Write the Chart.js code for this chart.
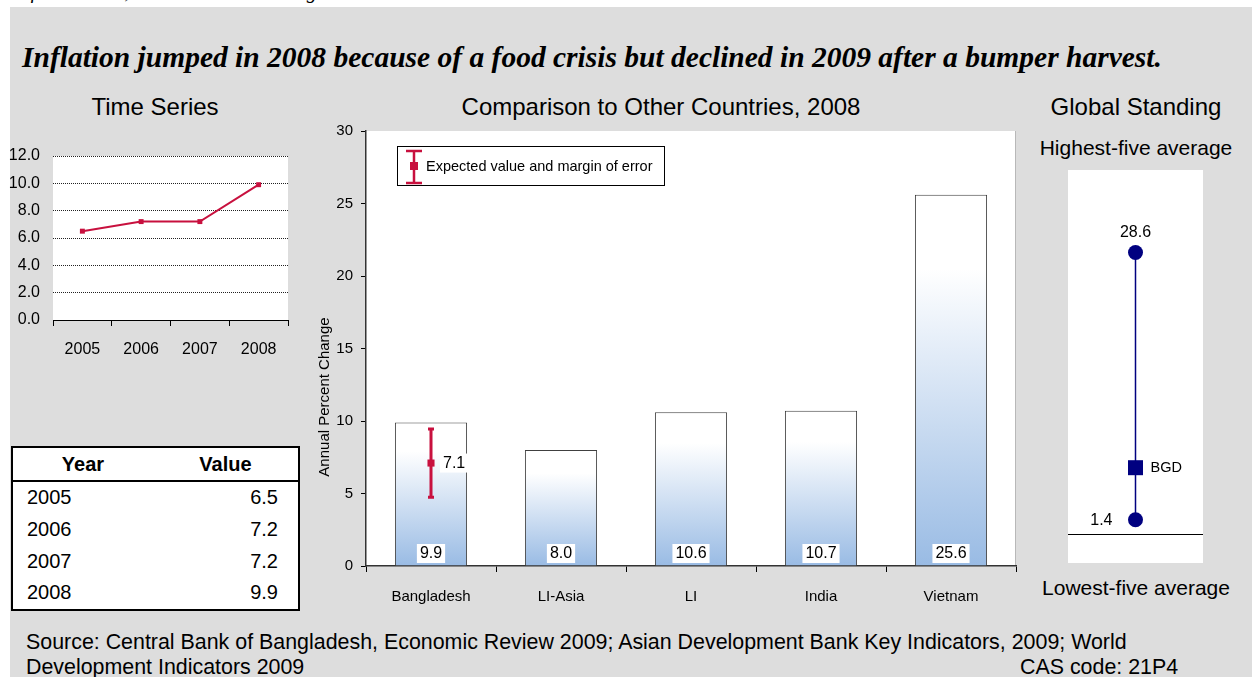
<!DOCTYPE html>
<html>
<head>
<meta charset="utf-8">
<script src="https://cdn.jsdelivr.net/npm/chart.js@4.4.1/dist/chart.umd.min.js"></script>
<style>
  body { margin: 0; width: 1252px; height: 677px; background: #fff; position: relative; overflow: hidden;
         font-family: "Liberation Sans", Arial, sans-serif; color: #000; }
  #panel { position: absolute; left: 10px; top: 7px; width: 1242px; height: 670px; background: #dddddd; }
  .t { position: absolute; white-space: nowrap; }
  .c { transform: translateX(-50%); }
  canvas { position: absolute; }
  #tbl { position: absolute; left: 11px; top: 446px; width: 289px; height: 165px; box-sizing: border-box;
         border: 2px solid #000; background: #fff; font-size: 20px; }
  #tbl .row { display: flex; height: 31.75px; line-height: 31.75px; }
  #tbl .row.head { height: 34px; line-height: 32px; box-sizing: border-box; border-bottom: 2px solid #000; font-weight: bold; }
  #tbl .row span:first-child { width: 140px; padding-left: 14px; box-sizing: border-box; }
  #tbl .row span:last-child { width: 145px; padding-right: 20px; box-sizing: border-box; text-align: right; }
  #tbl .row.head span { text-align: center; padding: 0; }
</style>
</head>
<body>
<div class="t" style="left:14px; top:-19px; font: italic 20px 'Liberation Serif', serif; line-height:20px;">Inflation Rate, Annual Percent Change</div>
<div id="panel"></div>

<div class="t" style="left:22px; top:41px; font: bold italic 29.5px 'Liberation Serif', serif; line-height:32px;">Inflation jumped in 2008 because of a food crisis but declined in 2009 after a bumper harvest.</div>

<div class="t c" style="left:155px; top:95px; font-size:24px; line-height:24px;">Time Series</div>
<div class="t c" style="left:661px; top:95px; font-size:24px; line-height:24px;">Comparison to Other Countries, 2008</div>
<div class="t c" style="left:1136px; top:95px; font-size:24px; line-height:24px;">Global Standing</div>
<div class="t c" id="hiLabel" style="left:1136px; top:137px; font-size:21px; line-height:22px;"></div>
<div class="t c" id="loLabel" style="left:1136px; top:577px; font-size:21px; line-height:22px;"></div>

<canvas id="ts" width="300" height="225" style="left:0; top:140px;"></canvas>
<canvas id="cmp" width="730" height="506" style="left:300px; top:114px;"></canvas>
<canvas id="gs" width="135" height="393" style="left:1068px; top:170px;"></canvas>

<div id="tbl"><div class="row head"><span>Year</span><span>Value</span></div></div>

<div class="t" style="left:26px; top:630px; font-size:21.4px; line-height:25px;">Source: Central Bank of Bangladesh, Economic Review 2009; Asian Development Bank Key Indicators, 2009; World<br>Development Indicators 2009</div>
<div class="t" style="left:1020px; top:655px; font-size:21.4px; line-height:25px;">CAS code: 21P4</div>

<script>
// annual inflation, Bangladesh
const years = ['2005', '2006', '2007', '2008'];
const inflation = [6.5, 7.2, 7.2, 9.9];

// 2008 comparison
const countries = ['Bangladesh', 'LI-Asia', 'LI', 'India', 'Vietnam'];
const inflation2008 = [9.9, 8.0, 10.6, 10.7, 25.6];
const expected = [7.1, null, null, null, null];
const marginLow = [4.75, null, null, null, null];
const marginHigh = [9.45, null, null, null, null];

// global standing
const standingLabels = ['Highest-five average', 'Lowest-five average'];
const standingValues = [28.6, 1.4];
const bgdStanding = [6.7];

const RED = '#c8103e';
const NAVY = '#000080';

Chart.defaults.font.family = "'Liberation Sans', Arial, sans-serif";
Chart.defaults.color = '#000';
Chart.defaults.animation = false;
Chart.defaults.plugins.legend.display = false;
Chart.defaults.plugins.tooltip.enabled = false;

document.getElementById('hiLabel').textContent = standingLabels[0];
document.getElementById('loLabel').textContent = standingLabels[1];

const tbl = document.getElementById('tbl');
years.forEach((y, i) => {
    const row = document.createElement('div');
    row.className = 'row';
    row.innerHTML = '<span>' + y + '</span><span>' + inflation[i].toFixed(1) + '</span>';
    tbl.appendChild(row);
});

const whiteArea = {
    id: 'whiteArea',
    beforeDraw(chart) {
        const { ctx, chartArea: a } = chart;
        ctx.save();
        ctx.fillStyle = '#fff';
        ctx.fillRect(a.left, a.top, a.right - a.left, a.bottom - a.top);
        ctx.restore();
    }
};

function labelBox(ctx, text, x, y, align) {
    const w = ctx.measureText(text).width;
    const left = align === 'left' ? x : x - w / 2;
    ctx.fillStyle = '#fff';
    ctx.fillRect(left - 3, y - 9.5, w + 6, 19);
    ctx.fillStyle = '#000';
    ctx.textAlign = align;
    ctx.textBaseline = 'middle';
    ctx.fillText(text, x, y + 0.5);
}

// time series
new Chart(document.getElementById('ts'), {
    type: 'line',
    data: {
        labels: years,
        datasets: [{
            data: inflation,
            borderColor: RED,
            borderWidth: 2,
            pointStyle: 'rect',
            pointRadius: 3.5,
            pointBackgroundColor: RED,
            pointBorderWidth: 0,
            tension: 0
        }]
    },
    options: {
        responsive: false,
        layout: { padding: { top: 16, right: 12, left: 0, bottom: 0 } },
        scales: {
            x: {
                offset: true,
                grid: { offset: true, drawOnChartArea: false, tickLength: 6, color: '#000' },
                border: { color: '#000' },
                ticks: { font: { size: 16 }, padding: 14 },
                afterFit(s) { s.height = 45; }
            },
            y: {
                min: 0, max: 12,
                // invisible tick marks keep the labels clear of the plot
                ticks: { stepSize: 2, font: { size: 16 }, padding: 3, callback: v => v.toFixed(1) },
                grid: { color: '#222', tickLength: 10, tickColor: 'rgba(0,0,0,0)' },
                border: { display: false, dash: [1, 1] },
                afterFit(s) { s.width = 53; }
            }
        }
    },
    plugins: [whiteArea]
});

// comparison bars
function barGradient(c) {
    const chart = c.chart;
    const y = chart.scales.y;
    const v = inflation2008[c.dataIndex];
    if (!y || !chart.chartArea || v === undefined) return '#c6d7ee';
    const top = y.getPixelForValue(v);
    const base = y.getPixelForValue(0);
    if (!isFinite(top) || !isFinite(base) || top === base) return '#c6d7ee';
    const g = chart.ctx.createLinearGradient(0, top, 0, base);
    g.addColorStop(0, '#ffffff');
    g.addColorStop(0.2, '#ffffff');
    g.addColorStop(1, '#99bbe4');
    return g;
}

const cmpExtras = {
    id: 'cmpExtras',
    beforeDraw(chart) {
        const { ctx, chartArea: a } = chart;
        ctx.save();
        ctx.fillStyle = '#fff';
        ctx.fillRect(a.left, a.top, a.right - a.left, a.bottom - a.top);
        ctx.strokeStyle = '#b8b8b8';
        ctx.lineWidth = 1;
        ctx.beginPath();
        ctx.moveTo(a.right - 0.5, a.top);
        ctx.lineTo(a.right - 0.5, a.bottom);
        ctx.stroke();
        // axis title sits below the middle of the axis
        ctx.translate(a.left - 41, a.bottom - 169);
        ctx.rotate(-Math.PI / 2);
        ctx.fillStyle = '#000';
        ctx.font = "15px 'Liberation Sans', Arial, sans-serif";
        ctx.textAlign = 'center';
        ctx.textBaseline = 'middle';
        ctx.fillText('Annual Percent Change', 0, 0);
        ctx.restore();
    },
    // whiskers go under the expected-value marker
    beforeDatasetDraw(chart, args) {
        if (args.index !== 0) return;
        const { ctx, scales: { x, y } } = chart;
        ctx.save();
        ctx.strokeStyle = RED;
        ctx.lineWidth = 3;
        marginLow.forEach((lo, i) => {
            if (lo == null) return;
            const px = x.getPixelForValue(i);
            const yLo = y.getPixelForValue(lo);
            const yHi = y.getPixelForValue(marginHigh[i]);
            ctx.beginPath();
            ctx.moveTo(px, yLo); ctx.lineTo(px, yHi);
            ctx.moveTo(px - 3, yLo); ctx.lineTo(px + 3, yLo);
            ctx.moveTo(px - 3, yHi); ctx.lineTo(px + 3, yHi);
            ctx.stroke();
        });
        ctx.restore();
    },
    afterDatasetsDraw(chart) {
        const { ctx, scales: { y } } = chart;
        const base = y.getPixelForValue(0);
        ctx.save();
        ctx.font = "16px 'Liberation Sans', Arial, sans-serif";
        chart.getDatasetMeta(1).data.forEach((bar, i) => {
            labelBox(ctx, inflation2008[i].toFixed(1), bar.x, base - 12.5, 'center');
        });
        chart.getDatasetMeta(0).data.forEach((pt, i) => {
            if (expected[i] == null) return;
            labelBox(ctx, expected[i].toFixed(1), pt.x + 12, pt.y, 'left');
        });
        ctx.restore();
    },
    afterDraw(chart) {
        const { ctx, chartArea: a } = chart;
        const lx = a.left + 31, ly = a.top + 15;
        ctx.save();
        ctx.fillStyle = '#fff';
        ctx.fillRect(lx, ly, 268, 40);
        ctx.strokeStyle = '#000';
        ctx.lineWidth = 1;
        ctx.strokeRect(lx + 0.5, ly + 0.5, 267, 39);
        const ix = lx + 17, top = ly + 5, bot = ly + 37;
        ctx.strokeStyle = RED;
        ctx.lineWidth = 2.5;
        ctx.beginPath();
        ctx.moveTo(ix, top); ctx.lineTo(ix, bot);
        ctx.moveTo(ix - 8, top); ctx.lineTo(ix + 8, top);
        ctx.moveTo(ix - 8, bot); ctx.lineTo(ix + 8, bot);
        ctx.stroke();
        ctx.fillStyle = RED;
        ctx.fillRect(ix - 4, ly + 16, 8, 8);
        ctx.fillStyle = '#000';
        ctx.font = "14.5px 'Liberation Sans', Arial, sans-serif";
        ctx.textAlign = 'left';
        ctx.textBaseline = 'middle';
        ctx.fillText('Expected value and margin of error', lx + 29, ly + 21);
        ctx.restore();
    }
};

new Chart(document.getElementById('cmp'), {
    data: {
        labels: countries,
        datasets: [{
            type: 'line',
            data: expected,
            showLine: false,
            pointStyle: 'rect',
            pointRadius: 5,
            pointBackgroundColor: RED,
            pointBorderWidth: 0,
            order: 1
        }, {
            type: 'bar',
            data: inflation2008,
            backgroundColor: barGradient,
            borderColor: '#404040',
            borderWidth: 1,
            barPercentage: 0.555,
            categoryPercentage: 1,
            order: 2
        }]
    },
    options: {
        responsive: false,
        layout: { padding: { top: 16, right: 14, left: 0, bottom: 0 } },
        scales: {
            x: {
                offset: true,
                grid: { offset: true, drawOnChartArea: false, tickLength: 6, color: '#000' },
                border: { color: '#333', width: 1.5 },
                ticks: { font: { size: 15 }, padding: 16 },
                afterFit(s) { s.height = 54; }
            },
            y: {
                min: 0, max: 30,
                ticks: { stepSize: 5, font: { size: 15 }, padding: 8 },
                grid: { drawOnChartArea: false, tickLength: 5, color: '#000' },
                border: { color: '#333', width: 1.5 },
                afterFit(s) { s.width = 66; }
            }
        }
    },
    plugins: [cmpExtras]
});

// global standing
const gsExtras = {
    id: 'gsExtras',
    beforeDraw(chart) {
        const { ctx, width, height } = chart;
        ctx.save();
        ctx.fillStyle = '#fff';
        ctx.fillRect(0, 0, width, height);
        ctx.restore();
    },
    afterDraw(chart) {
        const { ctx, scales: { y }, width } = chart;
        const zero = Math.round(y.getPixelForValue(0)) + 0.5;
        ctx.save();
        ctx.strokeStyle = '#000';
        ctx.lineWidth = 1;
        ctx.beginPath();
        ctx.moveTo(0, zero); ctx.lineTo(width, zero);
        ctx.stroke();
        const pts = chart.getDatasetMeta(0).data;
        ctx.fillStyle = '#000';
        ctx.font = "16px 'Liberation Sans', Arial, sans-serif";
        ctx.textBaseline = 'middle';
        ctx.textAlign = 'center';
        ctx.fillText(standingValues[0].toFixed(1), pts[0].x, pts[0].y - 19.5);
        ctx.textAlign = 'right';
        ctx.fillText(standingValues[1].toFixed(1), pts[1].x - 23, pts[1].y + 1);
        const sq = chart.getDatasetMeta(1).data[0];
        ctx.font = "14.5px 'Liberation Sans', Arial, sans-serif";
        ctx.textAlign = 'left';
        ctx.fillText('BGD', sq.x + 15, sq.y);
        ctx.restore();
    }
};

new Chart(document.getElementById('gs'), {
    type: 'scatter',
    data: {
        datasets: [{
            type: 'line',
            data: standingValues.map(v => ({ x: 0, y: v })),
            borderColor: NAVY,
            borderWidth: 1.5,
            pointRadius: 7.5,
            pointBackgroundColor: NAVY,
            pointBorderWidth: 0
        }, {
            data: bgdStanding.map(v => ({ x: 0, y: v })),
            pointStyle: 'rect',
            pointRadius: 10.6,
            pointBackgroundColor: NAVY,
            pointBorderWidth: 0
        }]
    },
    options: {
        responsive: false,
        layout: { padding: 0, autoPadding: false },
        scales: {
            x: { display: false, min: -1, max: 1 },
            y: { display: false, min: -3, max: 37 }
        }
    },
    plugins: [gsExtras]
});
</script>
</body>
</html>
